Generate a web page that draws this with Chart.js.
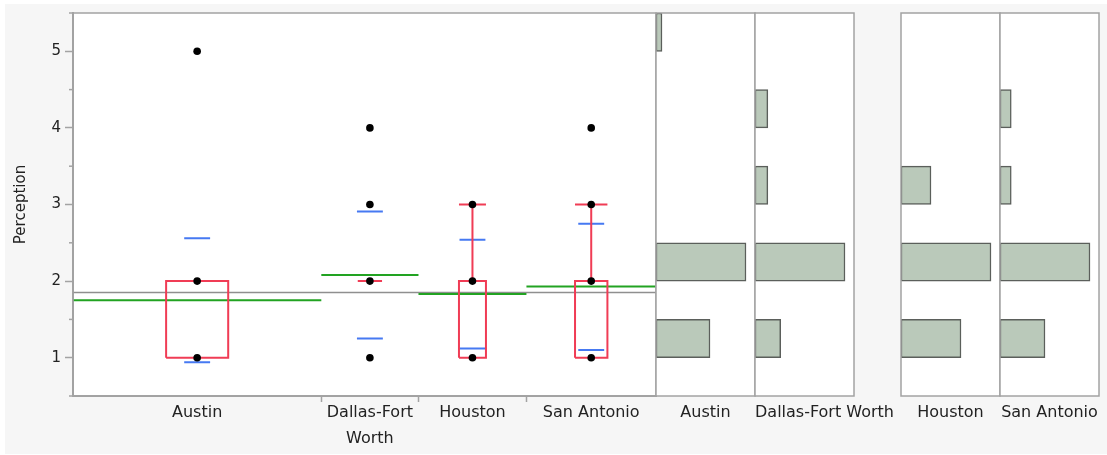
<!DOCTYPE html>
<html lang="en">
<head>
	<meta charset="UTF-8">
	<title>Perception by Region</title>
	<script src="https://cdn.jsdelivr.net/npm/chart.js"></script>
	<style>
		body {
			margin: 0;
			background: #fff;
			overflow: hidden;
		}

		#backdrop {
			position: absolute;
			left: 5px;
			top: 4px;
			width: 1102px;
			height: 450px;
			background: #f6f6f6;
		}

		.box {
			position: absolute;
			top: 0;
			height: 455px;
		}
	</style>
</head>
<body>
<div id="backdrop"></div>
<div class="box" style="left:0;width:660px"><canvas id="oneway"></canvas></div>
<div class="box" style="left:576px;width:259px"><canvas id="hist0"></canvas></div>
<div class="box" style="left:675px;width:259px"><canvas id="hist1"></canvas></div>
<div class="box" style="left:821px;width:259px"><canvas id="hist2"></canvas></div>
<div class="box" style="left:920px;width:259px"><canvas id="hist3"></canvas></div>

<script>
	const regions = ['Austin', 'Dallas-Fort Worth', 'Houston', 'San Antonio'];
	const axisLabels = ['Austin', ['Dallas-Fort', 'Worth'], 'Houston', 'San Antonio'];
	const ratings = [1, 2, 3, 4, 5];

	// answers per rating (1..5) in each region
	const austinCounts = [9, 15, 0, 0, 1];
	const dallasCounts = [2, 7, 1, 1, 0];
	const houstonCounts = [4, 6, 2, 0, 0];
	const sanAntonioCounts = [4, 8, 1, 1, 0];

	const groupMeans = [1.75, 2.08, 1.83, 1.93];
	const sdHigh = [2.56, 2.91, 2.54, 2.75];
	const sdLow = [0.94, 1.25, 1.12, 1.10];
	const quartile1 = [1, 2, 1, 1];
	const medians = [2, 2, 2, 2];
	const quartile3 = [2, 2, 2, 2];
	const whiskerLow = [1, 2, 1, 1];
	const whiskerHigh = [2, 2, 3, 3];
	const grandMean = 1.85;

	const counts = [austinCounts, dallasCounts, houstonCounts, sanAntonioCounts];

	const FONT = "'DejaVu Sans', sans-serif";
	Chart.defaults.font.family = FONT;
	Chart.defaults.color = '#222';
	Chart.defaults.animation = false;
	Chart.defaults.plugins.legend.display = false;
	Chart.defaults.plugins.tooltip.enabled = false;

	const AXIS = '#a3a3a3';
	const RED = '#f03c55';
	const BLUE = '#4679f2';
	const GREEN = '#22a322';

	// group widths follow group size
	const sizes = counts.map(c => c.reduce((a, b) => a + b, 0));
	const widths = sizes.map(n => n - 2);
	const starts = [];
	let run = 0;
	widths.forEach(w => { starts.push(run); run += w; });
	const total = run;
	const ends = starts.map((s, i) => s + widths[i]);
	const centers = starts.map((s, i) => s + widths[i] / 2);
	const boxHalf = widths.map(w => w * 0.125);
	const sdHalf = 1.2;

	const GAP = c => ({ x: c, y: null });

	const dots = [];
	counts.forEach((c, g) => {
		ratings.forEach((r, i) => { if (c[i] > 0) dots.push({ x: centers[g], y: r }); });
	});

	const redLines = [];
	regions.forEach((name, g) => {
		const c = centers[g], x0 = c - boxHalf[g], x1 = c + boxHalf[g];
		redLines.push({ x: x0, y: quartile1[g] }, { x: x1, y: quartile1[g] }, { x: x1, y: quartile3[g] },
			{ x: x0, y: quartile3[g] }, { x: x0, y: quartile1[g] }, GAP(c));
		redLines.push({ x: x0, y: medians[g] }, { x: x1, y: medians[g] }, GAP(c));
		if (whiskerHigh[g] > quartile3[g]) {
			redLines.push({ x: c, y: quartile3[g] }, { x: c, y: whiskerHigh[g] }, GAP(c));
			redLines.push({ x: x0, y: whiskerHigh[g] }, { x: x1, y: whiskerHigh[g] }, GAP(c));
		}
		if (whiskerLow[g] < quartile1[g]) {
			redLines.push({ x: c, y: quartile1[g] }, { x: c, y: whiskerLow[g] }, GAP(c));
			redLines.push({ x: x0, y: whiskerLow[g] }, { x: x1, y: whiskerLow[g] }, GAP(c));
		}
	});

	const blueLines = [];
	regions.forEach((name, g) => {
		const c = centers[g];
		blueLines.push({ x: c - sdHalf, y: sdHigh[g] }, { x: c + sdHalf, y: sdHigh[g] }, GAP(c));
		blueLines.push({ x: c - sdHalf, y: sdLow[g] }, { x: c + sdHalf, y: sdLow[g] }, GAP(c));
	});

	const greenLines = [];
	regions.forEach((name, g) => {
		greenLines.push({ x: starts[g], y: groupMeans[g] }, { x: ends[g], y: groupMeans[g] }, GAP(ends[g]));
	});

	const lineSet = (data, color, width) => ({
		data, showLine: true, borderColor: color, borderWidth: width, pointRadius: 0, spanGaps: false
	});

	// white plot area and grey frame
	const frame = {
		id: 'frame',
		beforeDraw(chart) {
			const a = chart.chartArea, ctx = chart.ctx;
			ctx.save();
			ctx.fillStyle = '#fff';
			ctx.fillRect(a.left, a.top, a.width, a.height);
			ctx.restore();
		},
		afterDatasetsDraw(chart) {
			const a = chart.chartArea, ctx = chart.ctx;
			ctx.save();
			ctx.strokeStyle = AXIS;
			ctx.lineWidth = 1.5;
			ctx.strokeRect(a.left, a.top, a.width, a.height);
			ctx.restore();
		}
	};

	// short ticks on the half steps of the y axis
	const minorTicks = {
		id: 'minorTicks',
		afterDraw(chart) {
			const s = chart.scales.y, ctx = chart.ctx;
			ctx.save();
			ctx.strokeStyle = AXIS;
			ctx.lineWidth = 1.5;
			s.ticks.forEach(t => {
				if (Number.isInteger(t.value)) return;
				const y = s.getPixelForValue(t.value);
				ctx.beginPath();
				ctx.moveTo(s.right - 4, y);
				ctx.lineTo(s.right, y);
				ctx.stroke();
			});
			ctx.restore();
		}
	};

	const boundaries = starts.slice(1);

	new Chart(document.getElementById('oneway'), {
		type: 'scatter',
		data: {
			datasets: [
				{ data: dots, pointRadius: 3.8, pointBackgroundColor: '#000', pointBorderWidth: 0 },
				lineSet(redLines, RED, 2),
				lineSet(blueLines, BLUE, 2),
				lineSet(greenLines, GREEN, 2),
				lineSet([{ x: 0, y: grandMean }, { x: total, y: grandMean }], '#8f8f8f', 1.5)
			]
		},
		options: {
			responsive: true,
			maintainAspectRatio: false,
			layout: { padding: { left: 0, right: 4, top: 13, bottom: 0 } },
			scales: {
				x: {
					type: 'linear',
					min: 0,
					max: total,
					afterBuildTicks: s => {
						s.ticks = boundaries.concat(centers).sort((a, b) => a - b).map(v => ({ value: v }));
					},
					afterFit: s => { s.height = 59; },
					ticks: {
						autoSkip: false,
						maxRotation: 0,
						minRotation: 0,
						padding: -2,
						font: { size: 16, lineHeight: 1.6 },
						callback: v => {
							const i = centers.indexOf(v);
							return i >= 0 ? axisLabels[i] : '';
						}
					},
					grid: {
						drawOnChartArea: false,
						tickLength: 6,
						tickWidth: 1.5,
						tickColor: ctx => centers.includes(ctx.tick.value) ? 'transparent' : AXIS
					},
					border: { color: AXIS, width: 2 }
				},
				y: {
					min: 0.5,
					max: 5.5,
					afterFit: s => { s.width = 73; },
					ticks: {
						stepSize: 0.5,
						padding: 4,
						font: { size: 15 },
						callback: v => Number.isInteger(v) ? v : ''
					},
					grid: {
						drawOnChartArea: false,
						tickLength: 8,
						tickWidth: 1.5,
						tickColor: ctx => Number.isInteger(ctx.tick.value) ? AXIS : 'transparent'
					},
					border: { color: AXIS, width: 2 },
					title: { display: true, text: 'Perception', font: { size: 15 }, padding: { top: 12 } }
				}
			}
		},
		plugins: [frame, minorTicks]
	});

	// half-unit bins from 5.5 down to 0.5; a rating r fills the bin [r, r + 0.5]
	const binLabels = [];
	for (let k = 0; k < 10; k++) binLabels.push((5.5 - k * 0.5) + '-' + (5 - k * 0.5));

	function binData(c) {
		const out = new Array(10).fill(null);
		ratings.forEach((r, i) => { if (c[i] > 0) out[2 * (5 - r)] = c[i]; });
		return out;
	}

	const measure = document.createElement('canvas').getContext('2d');
	measure.font = '16px ' + FONT;

	// a label wider than its panel starts at the panel's left edge
	function histogram(id, name, c, leftAligned) {
		const most = Math.max(...c);
		const shift = leftAligned ? measure.measureText(name).width / 2 : 0;
		return new Chart(document.getElementById(id), {
			type: 'bar',
			data: {
				labels: binLabels,
				datasets: [{
					data: binData(c),
					backgroundColor: '#bac9ba',
					borderColor: '#5b5f5b',
					borderWidth: 1.5,
					borderSkipped: false,
					categoryPercentage: 1,
					barPercentage: 1
				}]
			},
			options: {
				indexAxis: 'y',
				responsive: true,
				maintainAspectRatio: false,
				layout: { padding: { left: 80, right: 80, top: 13, bottom: 0 } },
				scales: {
					x: {
						min: 0,
						max: most * 1.1,
						afterBuildTicks: s => { s.ticks = [{ value: leftAligned ? 0 : most * 0.55 }]; },
						afterFit: s => { s.height = 59; },
						ticks: {
							autoSkip: false,
							maxRotation: 0,
							minRotation: 0,
							labelOffset: shift,
							padding: -2,
							font: { size: 16, lineHeight: 1.6 },
							callback: () => name
						},
						grid: { display: false, tickLength: 6 },
						border: { display: false }
					},
					y: { display: false }
				}
			},
			plugins: [frame]
		});
	}

	histogram('hist0', regions[0], austinCounts, false);
	histogram('hist1', regions[1], dallasCounts, true);
	histogram('hist2', regions[2], houstonCounts, false);
	histogram('hist3', regions[3], sanAntonioCounts, false);
</script>
</body>
</html>
